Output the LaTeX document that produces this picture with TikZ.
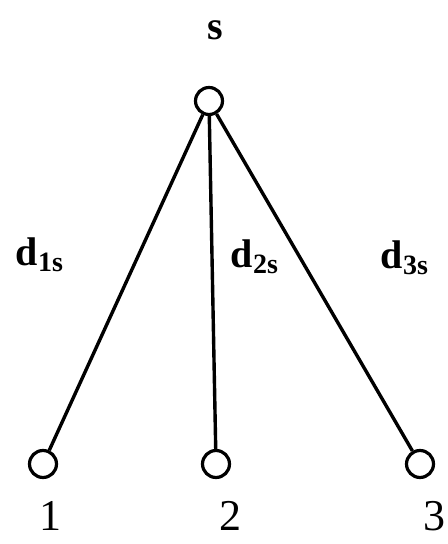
\documentclass[tikz,border=0pt]{standalone}
\usepackage{fontspec}
\setmainfont{Liberation Serif}
\usetikzlibrary{positioning}

\begin{document}
\begin{tikzpicture}[x=0.5pt,y=0.5pt,
  vertex/.style={circle,draw,line width=1.6pt,minimum size=13.5pt,inner sep=0pt},
  edge/.style={line width=1.7pt},
  lbl/.style={font=\bfseries\fontsize{20}{24}\selectfont},
  num/.style={font=\fontsize{22}{26}\selectfont,anchor=base,inner sep=0pt}]
\useasboundingbox (0,0) rectangle (447,544);
% source node
\node[vertex] (s) at (209,443) {};
\node[lbl] (slabel) at (215,514) {s};
% sink nodes
\node[vertex] (n1) at (43,80) {};
\node[vertex] (n2) at (216,80) {};
\node[vertex] (n3) at (420,80) {};
\node[num] (l1) at (50,13) {1};
\node[num] (l2) at (230,13) {2};
\node[num] (l3) at (434,13) {3};
% edges
\draw[edge] (s) -- (n1);
\draw[edge] (s) -- (n2);
\draw[edge] (s) -- (n3);
% edge labels
\node[lbl] (d1) at (40,289) {d$_{\mathbf{1s}}$};
\node[lbl] (d2) at (255,287) {d$_{\mathbf{2s}}$};
\node[lbl] (d3) at (405,286) {d$_{\mathbf{3s}}$};
\end{tikzpicture}
\end{document}
